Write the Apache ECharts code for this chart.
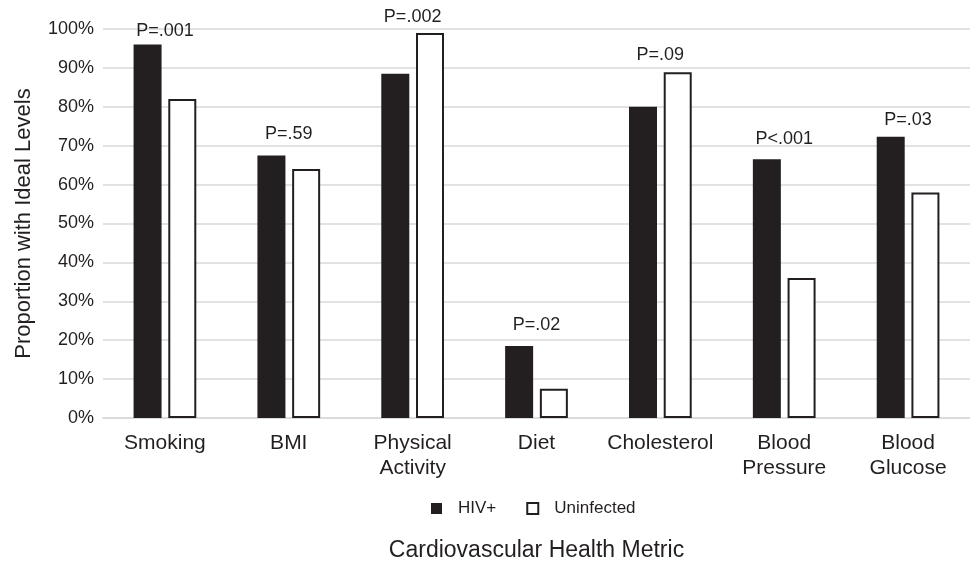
<!DOCTYPE html>
<html>
<head>
<meta charset="utf-8">
<script src="https://cdn.jsdelivr.net/npm/echarts@6/dist/echarts.min.js"></script>
<style>
  html, body { margin: 0; padding: 0; background: #fff; }
  #main { width: 970px; height: 561px; }
</style>
</head>
<body>
<div id="main"></div>
<script>
var metrics = ['Smoking', 'BMI', 'Physical\nActivity', 'Diet', 'Cholesterol', 'Blood\nPressure', 'Blood\nGlucose'];
var hivPos = [96, 67.5, 88.5, 18.5, 80, 66.5, 72.3];
var uninfected = [82, 64, 99, 7.5, 88.9, 36, 58];
var pLabels = ['P=.001', 'P=.59', 'P=.002', 'P=.02', 'P=.09', 'P<.001', 'P=.03'];
// height (in %) where each p-value sits above its pair
var pLabelPos = [99.5, 73, 103.1, 23.9, 93.4, 71.7, 76.5];
var yTicks = [0, 10, 20, 30, 40, 50, 60, 70, 80, 90, 100];

var ink = '#231f20';
var font = 'Liberation Sans, Arial, Helvetica, sans-serif';

var myChart = echarts.init(document.getElementById('main'));
var option = {
    animation: false,
    textStyle: { fontFamily: font, color: ink },
    grid: { left: 103, right: 0, top: 29, bottom: 143, outerBoundsMode: 'none' },
    legend: {
        data: ['HIV+', 'Uninfected'],
        left: 426,
        top: 495,
        itemWidth: 11,
        itemHeight: 11,
        itemGap: 30,
        icon: 'rect',
        textStyle: { fontSize: 17, color: ink, fontFamily: font, padding: [0, 0, 0, 11] }
    },
    xAxis: {
        type: 'category',
        data: metrics,
        name: 'Cardiovascular Health Metric',
        nameLocation: 'middle',
        nameGap: 121,
        nameTextStyle: { fontSize: 23, color: ink, fontFamily: font },
        axisTick: { show: false },
        axisLine: { lineStyle: { color: '#d9d9d9', width: 1.5 } },
        axisLabel: { fontSize: 21, lineHeight: 25, color: ink, margin: 13, interval: 0 }
    },
    yAxis: {
        type: 'value',
        min: yTicks[0],
        max: yTicks[yTicks.length - 1],
        interval: 10,
        name: 'Proportion with Ideal Levels',
        nameLocation: 'middle',
        nameGap: 68,
        nameTextStyle: { fontSize: 22, color: ink, fontFamily: font },
        axisLine: { show: false },
        axisTick: { show: false },
        axisLabel: { formatter: '{value}%', fontSize: 18, color: ink, margin: 9 },
        splitLine: { lineStyle: { color: '#d9d9d9', width: 1.5 } }
    },
    series: [
        {
            name: 'HIV+',
            type: 'bar',
            barWidth: 28,
            barGap: '24%',
            itemStyle: { color: ink },
            data: hivPos
        },
        {
            name: 'Uninfected',
            type: 'bar',
            barWidth: 28,
            itemStyle: { color: '#fff', borderColor: ink, borderWidth: 2 },
            data: uninfected
        },
        {
            name: 'p',
            type: 'scatter',
            symbolSize: 2,
            clip: false,
            silent: true,
            z: 5,
            itemStyle: { color: 'rgba(0,0,0,0)', opacity: 1 },
            label: {
                show: true,
                position: 'inside',
                fontSize: 18,
                color: ink,
                opacity: 1,
                textBorderWidth: 0,
                fontFamily: font,
                formatter: function (p) { return pLabels[p.dataIndex]; }
            },
            data: pLabelPos
        }
    ]
};
myChart.setOption(option);
</script>
</body>
</html>
